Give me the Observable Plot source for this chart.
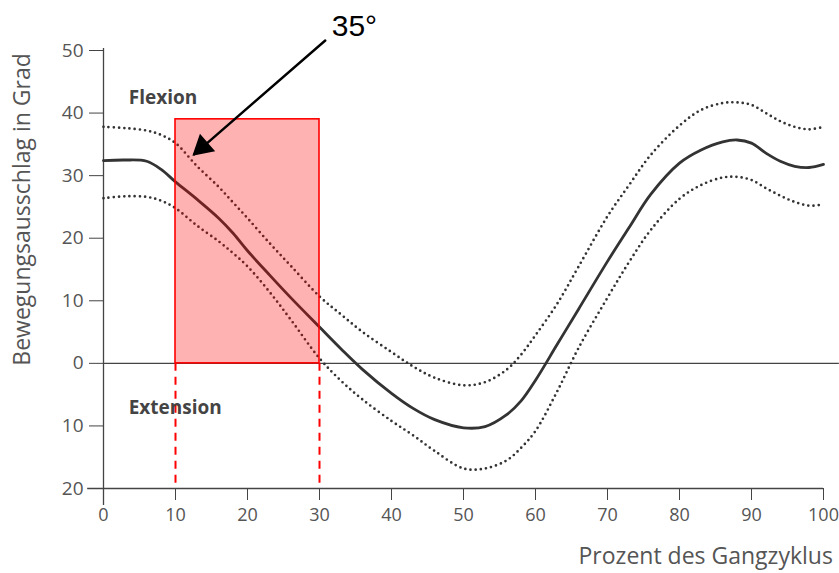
<!DOCTYPE html>
<html>
<head>
<meta charset="utf-8">
<script src="https://cdn.jsdelivr.net/npm/d3@7"></script>
<script src="https://cdn.jsdelivr.net/npm/@observablehq/plot@0.6"></script>
<style>
  html, body { margin: 0; padding: 0; background: #fff; }
</style>
</head>
<body>
<div id="chart"></div>
<script>
// Percent of gait cycle
const xs = [0,3,6,8,10,13,16,18,20,23,26,30,33,36,40,43,46,50,53,56,58,60,63,66,70,73,76,80,83,86,88,90,92,94,96,98,100];
// Mean knee angle (degrees; negative = extension)
const meanVals  = [32.4,32.5,32.3,31.0,29.0,26.2,23.2,20.8,18.0,14.2,10.5,5.8,2.3,-1.0,-4.8,-7.2,-9.0,-10.3,-10.1,-8.2,-6.0,-2.7,3.0,8.7,16.3,21.7,27.0,32.0,34.1,35.4,35.7,35.2,33.6,32.3,31.5,31.3,31.8];
// Upper band
const upperVals = [37.8,37.6,37.2,36.5,35.2,31.5,28.2,25.7,23.2,19.3,15.6,10.7,7.8,5.0,1.8,-0.5,-2.3,-3.5,-3.0,-1.0,1.4,4.5,9.5,15.5,23.5,28.5,33.3,38.0,40.5,41.6,41.7,41.3,40.0,38.7,37.8,37.4,37.8];
// Lower band
const lowerVals = [26.4,26.7,26.6,26.0,24.8,22.0,19.5,17.6,15.5,11.5,7.0,0.8,-2.8,-5.8,-9.2,-11.5,-14.0,-16.8,-16.8,-15.5,-13.5,-10.8,-4.5,2.5,10.5,16.2,21.3,26.3,28.5,29.7,29.8,29.3,28.0,26.8,25.8,25.2,25.4];

const xTicks = [0,10,20,30,40,50,60,70,80,90,100];
const yTicks = [-20,-10,0,10,20,30,40,50];

// Highlighted range (10–30 %), up to ~39°
const highlight = [{x1: 10, x2: 30, y1: 0, y2: 39}];
const highlightEdges = [10, 30];

// Annotation
const angleLabel = ["35°"];
const arrowData = [{x1: 30.8, y1: 51.6, x2: 12.6, y2: 33.4}];
const arrowHead = [{x: 13.75, y: 34.6}];
const regionLabels = [{label: "Flexion", x: 3.5, y: 42.5}, {label: "Extension", x: 3.5, y: -7.1}];

const data = xs.map((x, i) => ({x, mean: meanVals[i], upper: upperVals[i], lower: lowerVals[i]}));

const ink = "#333";

const chart = Plot.plot({
  width: 839,
  height: 573,
  marginLeft: 103,
  marginRight: 16,
  marginTop: 50,
  marginBottom: 85,
  style: {fontFamily: "'Open Sans', sans-serif", fontSize: "18px", color: "#444", background: "#fff", overflow: "visible"},
  x: {domain: [0, 100]},
  y: {domain: [-20, 50]},
  marks: [
    // axes
    Plot.axisX({ticks: xTicks, tickSize: 12, tickPadding: 8, label: null, fontSize: 18, stroke: "#444", fill: "#555"}),
    Plot.axisY({ticks: yTicks, tickSize: 14, tickPadding: 6, label: null, tickFormat: d => Math.abs(d), fontSize: 19, stroke: "#444", fill: "#555"}),
    Plot.ruleX([0], {y1: -22.7, y2: 50.3, stroke: "#444", strokeWidth: 1.3}),
    Plot.ruleY([-20], {x1: -2.2, x2: 100, stroke: "#444", strokeWidth: 1.3}),
    Plot.ruleY([0], {x1: 0, x2: 102.2, stroke: "#444", strokeWidth: 1.3}),
    // curves
    Plot.line(data, {x: "x", y: "upper", curve: "catmull-rom", stroke: ink, strokeWidth: 2.7, strokeDasharray: "0,5.2", strokeLinecap: "round"}),
    Plot.line(data, {x: "x", y: "lower", curve: "catmull-rom", stroke: ink, strokeWidth: 2.7, strokeDasharray: "0,5.2", strokeLinecap: "round"}),
    Plot.line(data, {x: "x", y: "mean", curve: "catmull-rom", stroke: ink, strokeWidth: 2.8}),
    // highlight
    Plot.rect(highlight, {x1: "x1", x2: "x2", y1: "y1", y2: "y2", fill: "#ff0000", fillOpacity: 0.3, stroke: "#ff0000", strokeWidth: 1.6}),
    Plot.ruleX(highlightEdges, {y1: 0, y2: -20, stroke: "#ff0000", strokeWidth: 2, strokeDasharray: "8,6"}),
    // labels
    Plot.text(regionLabels, {x: "x", y: "y", text: "label", textAnchor: "start", fontWeight: "bold", fontSize: 19, fill: "#444"}),
    Plot.text(["Bewegungsausschlag in Grad"], {x: -11.3, y: 24.6, rotate: -90, textAnchor: "middle", fontSize: 23, fill: "#555"}),
    Plot.text(["Prozent des Gangzyklus"], {x: 101.3, y: -30.9, textAnchor: "end", fontSize: 23, fill: "#555"}),
    // arrow annotation
    Plot.arrow(arrowData, {x1: "x1", y1: "y1", x2: "x2", y2: "y2", stroke: "#000", strokeWidth: 2.4, headLength: 0}),
    Plot.dot(arrowHead, {x: "x", y: "y", symbol: "triangle", r: 8.6, rotate: 229, fill: "#000", stroke: "none"}),
    Plot.text(angleLabel, {x: 31.7, y: 53.8, textAnchor: "start", fontFamily: "'Liberation Sans', Arial, sans-serif", fontSize: 30, fill: "#000"})
  ]
});
document.getElementById("chart").appendChild(chart);
</script>
</body>
</html>
